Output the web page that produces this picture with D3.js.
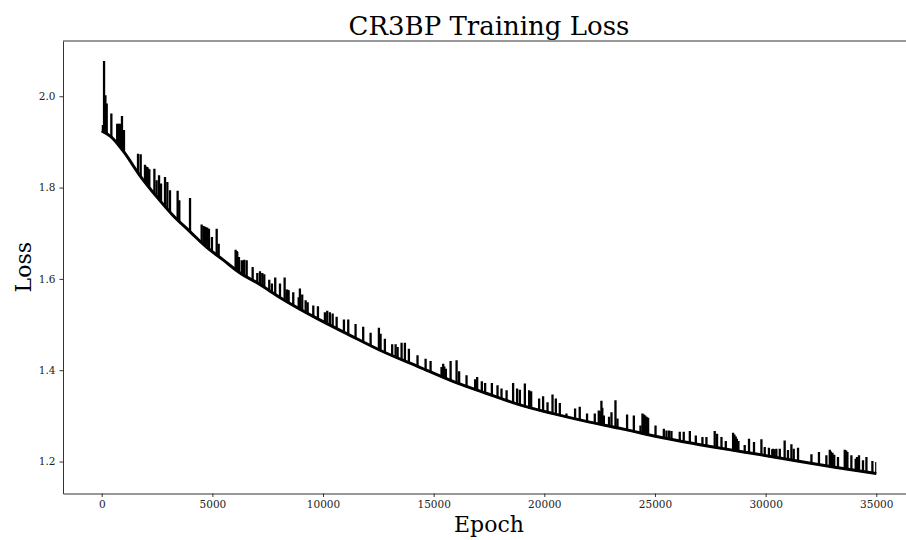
<!DOCTYPE html>
<html>
<head>
<meta charset="utf-8">
<script src="https://cdn.jsdelivr.net/npm/d3@7"></script>
<style>
    body { margin: 0; background: #fff; }
    text { font-family: "DejaVu Serif", serif; }
    .axis path, .axis line { stroke: #333; }
    .axis text { fill: #222; font-size: 10.5px; font-family: "DejaVu Serif", serif; }
</style>
</head>
<body>
<div id="chart"></div>
<script>
"use strict";

// Lower envelope of the loss curve (epoch, loss).
var baseEpoch = [0, 400, 1000, 1700, 2500, 3200, 4000, 4700, 5500, 6250, 7000, 8200,
                 9700, 11200, 12700, 14300, 15900, 17400, 18900, 20400, 21900, 23400,
                 24500, 26000, 27500, 29000, 30500, 31700, 33200, 35000];
var baseLoss = [1.924, 1.912, 1.878, 1.828, 1.779, 1.740, 1.703, 1.671, 1.641, 1.613, 1.592, 1.555,
                1.514, 1.477, 1.441, 1.408, 1.375, 1.349, 1.324, 1.305, 1.288, 1.273,
                1.261, 1.246, 1.233, 1.221, 1.209, 1.199, 1.187, 1.174];

// Spikes above the envelope: epoch and peak loss.
var spikeEpoch = [20, 105, 165, 225, 435, 700, 730, 760, 790, 830, 915, 1005,
                  1640, 1760, 1955, 2000, 2060, 2100, 2150, 2380, 2480, 2590, 2680, 2860, 2965, 3085,
                  3430, 3505, 3990, 4515, 4600, 4665, 4720, 4770, 4845, 4980, 5195, 5285,
                  6050, 6100, 6125, 6200, 6325, 6380, 6440, 6550, 6820, 7030, 7150, 7255, 7345,
                  7570, 7690, 7840, 8055, 8265, 8355, 8400, 8445, 8655, 8900, 8955, 9060,
                  9215, 9305, 9560, 9770, 10085, 10190, 10310, 10435, 10615, 10945,
                  11140, 11470, 11815, 12150, 12525, 12600, 12795, 13125, 13280, 13370,
                  13550, 13700, 13880, 14270, 14635, 14860, 15355, 15430, 15480, 15550, 15765,
                  16035, 16150, 16485, 16875, 16965, 17175, 17325, 17630, 17885, 18065,
                  18295, 18590, 18770, 18895, 19120, 19315, 19405, 19765, 19945, 20145,
                  20370, 20520, 20700, 21000, 21390, 21600, 21930, 22280, 22460, 22520, 22580,
                  22620, 22690, 22925, 23035, 23215, 23305, 23740, 24045, 24345, 24435, 24500, 24555,
                  24620, 24690, 25025, 25400, 25520, 25640, 25745, 26120, 26300, 26575, 26845,
                  27145, 27325, 27700, 27805, 28005, 28200, 28530, 28590, 28650, 28700, 28770, 29055,
                  29250, 29475, 29810, 29960, 30150, 30300, 30335, 30400, 30485, 30640, 30860, 31010,
                  31165, 31270, 31465, 32070, 32410, 32745, 32900, 32950, 33020, 33100, 33270, 33575,
                  33640, 33695, 33875, 34070, 34130, 34220, 34400, 34555, 34825, 35000];
var spikePeak = [1.937, 2.077, 2.002, 1.984, 1.962, 1.940, 1.938, 1.940, 1.936, 1.940, 1.957, 1.926,
                 1.874, 1.873, 1.850, 1.846, 1.845, 1.842, 1.840, 1.841, 1.816, 1.827, 1.809, 1.823, 1.812, 1.794,
                 1.793, 1.772, 1.777, 1.719, 1.716, 1.714, 1.713, 1.712, 1.710, 1.692, 1.710, 1.677,
                 1.664, 1.661, 1.659, 1.648, 1.641, 1.640, 1.642, 1.641, 1.626, 1.613, 1.617, 1.613, 1.610,
                 1.598, 1.590, 1.603, 1.590, 1.603, 1.577, 1.576, 1.575, 1.571, 1.560, 1.579, 1.566,
                 1.553, 1.549, 1.542, 1.540, 1.527, 1.530, 1.527, 1.524, 1.517, 1.511,
                 1.511, 1.501, 1.495, 1.482, 1.493, 1.480, 1.469, 1.457, 1.457, 1.451,
                 1.460, 1.460, 1.447, 1.433, 1.425, 1.420, 1.407, 1.414, 1.408, 1.403, 1.420,
                 1.422, 1.398, 1.389, 1.380, 1.385, 1.376, 1.372, 1.372, 1.367, 1.360,
                 1.356, 1.372, 1.360, 1.357, 1.371, 1.356, 1.354, 1.338, 1.343, 1.330,
                 1.347, 1.338, 1.328, 1.305, 1.316, 1.320, 1.305, 1.305, 1.312, 1.310, 1.333,
                 1.318, 1.301, 1.298, 1.308, 1.334, 1.294, 1.303, 1.301, 1.279, 1.305, 1.303, 1.301,
                 1.298, 1.296, 1.279, 1.272, 1.268, 1.268, 1.267, 1.265, 1.265, 1.267, 1.257,
                 1.254, 1.254, 1.267, 1.261, 1.254, 1.245, 1.263, 1.259, 1.255, 1.250, 1.245, 1.236,
                 1.250, 1.243, 1.249, 1.232, 1.230, 1.227, 1.228, 1.227, 1.228, 1.228, 1.246, 1.225,
                 1.238, 1.228, 1.230, 1.216, 1.221, 1.214, 1.226, 1.222, 1.219, 1.215, 1.210, 1.226,
                 1.224, 1.221, 1.214, 1.206, 1.210, 1.214, 1.203, 1.210, 1.201, 1.199];

var xTicks = [0, 5000, 10000, 15000, 20000, 25000, 30000, 35000];
var yTicks = [1.2, 1.4, 1.6, 1.8, 2.0];

var chartTitle = "CR3BP Training Loss",
    xTitle = "Epoch",
    yTitle = "Loss";

function lossChart() {
    var margin = {top: 41, left: 63},
        width = 852,      // right spine falls just off the page, as in the original
        height = 452.5,
        xScale = d3.scaleLinear().domain([-1750, 36750]).range([0, width]),
        yScale = d3.scaleLinear().domain([1.130, 2.121]).range([height, 0]);

    var base = baseEpoch.map(function(e, i) { return [e, baseLoss[i]]; });
    var spikes = spikeEpoch.map(function(e, i) { return [e, spikePeak[i]]; });

    var svg = d3.select("#chart").append("svg")
        .attr("width", 906)
        .attr("height", 540);

    var g = svg.append("g")
        .attr("transform", "translate(" + margin.left + "," + margin.top + ")");

    // Spikes only show above the envelope: clip them with the area over the curve.
    var above = d3.area()
        .curve(d3.curveMonotoneX)
        .x(function(d) { return xScale(d[0]); })
        .y0(0)
        .y1(function(d) { return yScale(d[1]) + 1; });
    g.append("clipPath")
        .attr("id", "aboveCurve")
        .append("path")
        .datum(base)
        .attr("d", above);

    g.append("g")
        .attr("clip-path", "url(#aboveCurve)")
        .selectAll("line")
        .data(spikes)
        .enter()
        .append("line")
        .attr("x1", function(d) { return xScale(d[0]); })
        .attr("x2", function(d) { return xScale(d[0]); })
        .attr("y1", function(d) { return yScale(d[1]); })
        .attr("y2", height)
        .attr("stroke", "#000")
        .attr("stroke-width", 2.3);

    // The envelope itself.
    var line = d3.line()
        .curve(d3.curveMonotoneX)
        .x(function(d) { return xScale(d[0]); })
        .y(function(d) { return yScale(d[1]); });
    g.append("path")
        .datum(base)
        .attr("d", line)
        .attr("fill", "none")
        .attr("stroke", "#000")
        .attr("stroke-width", 3);

    // Axes
    g.append("g")
        .attr("class", "axis")
        .attr("transform", "translate(0," + height + ")")
        .call(d3.axisBottom(xScale).tickValues(xTicks).tickSize(3.5).tickSizeOuter(0)
            .tickPadding(4).tickFormat(d3.format("d")));
    g.append("g")
        .attr("class", "axis")
        .call(d3.axisLeft(yScale).tickValues(yTicks).tickSize(3.5).tickSizeOuter(0)
            .tickPadding(4).tickFormat(d3.format(".1f")));
    g.append("line")
        .attr("x1", 0).attr("x2", width)
        .attr("y1", 0).attr("y2", 0)
        .attr("stroke", "#333");

    // Titles
    svg.append("text")
        .attr("x", margin.left + width / 2)
        .attr("y", 35)
        .attr("text-anchor", "middle")
        .style("font-size", "26px")
        .text(chartTitle);
    svg.append("text")
        .attr("x", margin.left + width / 2)
        .attr("y", 532)
        .attr("text-anchor", "middle")
        .style("font-size", "22px")
        .text(xTitle);
    svg.append("text")
        .attr("transform", "translate(31," + (margin.top + height / 2) + ") rotate(-90)")
        .attr("text-anchor", "middle")
        .style("font-size", "22px")
        .text(yTitle);
}

lossChart();
</script>
</body>
</html>
